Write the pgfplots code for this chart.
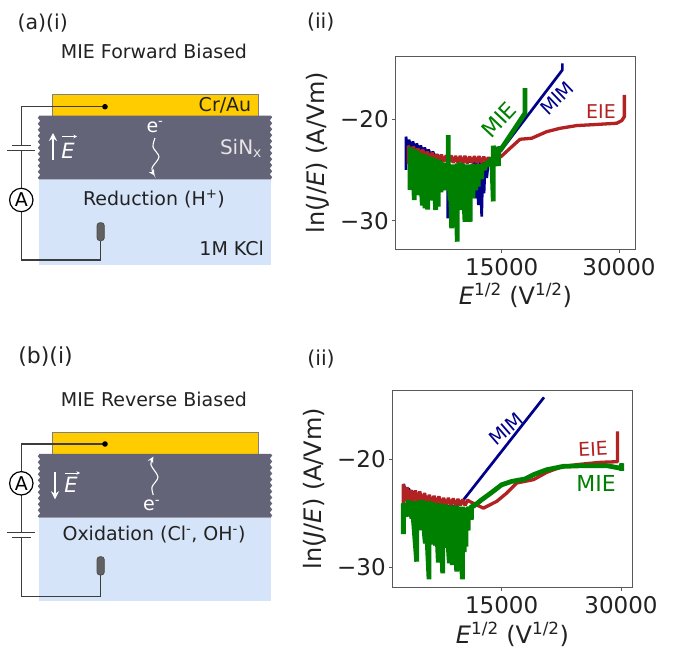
\documentclass[border=0pt]{standalone}
\usepackage{pgfplots}
\pgfplotsset{compat=1.18}
\usepackage{fontspec}
\setmainfont{DejaVu Sans}
\usetikzlibrary{decorations.pathmorphing,arrows.meta}
\definecolor{mblue}{HTML}{00008B}
\definecolor{mred}{HTML}{B22222}
\definecolor{mgreen}{HTML}{008000}
\definecolor{gold}{HTML}{FFCC00}
\definecolor{sin}{HTML}{646478}
\definecolor{kcl}{HTML}{D5E4F8}
\definecolor{wire}{HTML}{3C3C3C}
\definecolor{txt}{HTML}{222222}
\newcommand{\fs}[1]{\fontsize{#1}{#1}\selectfont}
\pgfplotsset{
  panel/.style={
    anchor=north west, scale only axis, width=239.6pt,
    scaled x ticks=false, scaled y ticks=false,
    axis line style={draw=black!65, line width=0.9pt},
    major tick style={draw=black!65, line width=0.8pt},
    tick align=outside, major tick length=3.5pt,
    xtick pos=bottom, ytick pos=left,
    xtick={15000,30000}, xticklabels={15000,30000},
    ytick={-30,-20}, yticklabels={−30,−20},
    tick label style={font=\fs{23}, text=txt},
    xticklabel style={yshift=-2.5pt},
    xlabel={\textit{E}\textsuperscript{1/2} (V\textsuperscript{1/2})},
    ylabel={ln(\textit{J}/\textit{E}) (A/Vm)},
    xlabel style={at={(axis description cs:0.5,0)},anchor=center,yshift=-46.7pt,font=\fs{24},text=txt},
    ylabel style={at={(axis description cs:0,0.5)},anchor=center,yshift=77.7pt,font=\fs{24},text=txt},
    every axis plot/.append style={line join=bevel, line cap=butt, no marks},
  }
}
\pgfplotstableread{
x y
2760 -25.0
2760 -21.71
3000 -23.0
3150 -22.0
3400 -22.8
3650 -22.2
3900 -22.9
4150 -22.4
4400 -23.0
4650 -22.6
4900 -23.2
5150 -22.8
5400 -23.3
5650 -23.0
5900 -23.5
6200 -23.2
6500 -23.7
6800 -23.5
7200 -24.0
8090 -24.0
8090 -29.77
8200 -24.0
11400 -24.2
11590 -27.79
11750 -24.2
12016 -28.45
12200 -24.2
12442 -29.6
12600 -24.2
12740 -27.3
12900 -24.2
13082 -25.8
13300 -24.2
14400 -23.6
22759 -15.14
22759 -14.48
}\blueA
\pgfplotstableread{
x y
3059 -24.4
3059 -22.6
3400 -23.2
3700 -22.7
4000 -23.4
4300 -22.9
4600 -23.5
4900 -23.0
5200 -23.7
5500 -23.2
5800 -23.9
6100 -23.3
6400 -24.0
6700 -23.45
7000 -24.1
7300 -23.5
7600 -24.2
7900 -23.55
8200 -24.3
8500 -23.55
8800 -24.3
9100 -23.6
9400 -24.3
9700 -23.6
10000 -24.35
10300 -23.6
10600 -24.35
10900 -23.65
11200 -24.3
11500 -23.65
11800 -24.3
12100 -23.65
12400 -24.3
12700 -23.7
13000 -24.2
13300 -23.75
13600 -24.2
14000 -23.95
14500 -23.9
15000 -23.62
16066 -22.86
17345 -21.97
18837 -21.87
20755 -21.22
22460 -20.89
24592 -20.62
26723 -20.53
29707 -20.39
30347 -20.13
30688 -19.74
30688 -17.6
}\redA
\pgfplotstableread{
x y
3272 -26.97
3272 -22.75
3571 -26.97
3571 -22.9
3827 -27.96
3827 -22.95
4168 -27.47
4168 -23.1
4509 -27.5
4509 -23.3
4850 -28.5
4850 -23.4
5191 -28.78
5191 -23.5
5532 -28.9
5532 -23.6
5873 -27.96
5873 -23.7
6214 -28.0
6214 -23.8
6555 -28.94
6555 -23.9
6896 -28.6
6896 -24.0
7237 -27.2
7237 -24.15
7578 -27.0
7578 -24.3
7919 -27.0
7919 -24.35
8175 -27.0
8175 -21.55
8175 -24.4
8400 -28.0
8400 -24.45
8601 -30.75
8601 -24.45
8800 -29.5
8800 -24.45
9027 -30.42
9027 -24.45
9326 -32.07
9326 -24.35
9624 -27.5
9624 -24.25
9965 -28.94
9965 -24.35
10306 -30.1
10306 -24.45
10647 -30.1
10647 -24.45
10988 -30.1
10988 -24.45
11330 -27.79
11330 -24.4
11670 -27.0
11670 -24.45
12012 -26.64
12012 -24.45
12438 -25.9
12438 -24.45
12864 -25.0
12864 -24.3
13290 -24.6
13290 -24.1
13717 -24.2
13717 -23.7
13926 -28.1
13926 -22.6
14150 -24.4
14150 -22.8
14574 -24.6
14574 -22.7
14787 -23.1
17981 -19.4
17981 -16.94
}\greenA
\pgfplotstableread{
x y
2677 -24.0
2677 -22.3
3000 -23.2
3300 -22.7
3700 -23.6
4000 -23.0
4500 -23.9
5000 -23.4
6000 -24.0
7500 -24.3
9000 -24.4
10182 -23.79
20321 -14.31
}\blueB
\pgfplotstableread{
x y
2640 -24.09
2640 -22.34
2900 -23.9
3100 -22.6
3400 -24.0
3600 -22.85
3900 -24.0
4150 -22.9
4450 -24.0
4700 -23.0
5000 -24.0
5300 -23.15
5600 -24.1
5900 -23.3
6200 -24.1
6500 -23.4
6800 -24.2
7100 -23.45
7400 -24.2
7700 -23.6
8000 -24.3
8300 -23.6
8600 -24.3
8900 -23.65
9200 -24.3
9500 -23.7
9800 -24.3
10100 -23.75
10400 -24.3
10700 -23.8
11020 -23.94
12690 -24.54
14370 -23.92
15630 -23.15
16890 -22.22
19000 -21.91
20670 -21.23
22350 -20.77
24450 -20.52
27390 -20.31
29570 -20.25
29570 -17.44
}\redB
\pgfplotstableread{
x y
2640 -26.93
2640 -24.1
3221 -25.3
3221 -23.8
3724 -25.5
3724 -23.9
4315 -29.48
4315 -23.9
4897 -26.56
4897 -23.8
5400 -27.8
5400 -23.9
5866 -31.11
5866 -23.9
6300 -27.9
6300 -24.0
6700 -28.0
6700 -24.1
7039 -29.57
7039 -24.1
7300 -28.4
7300 -24.1
7584 -30.56
7584 -24.2
7950 -28.2
7950 -24.2
8422 -29.63
8422 -24.3
8800 -29.8
8800 -24.3
9100 -29.8
9100 -24.3
9344 -30.4
9344 -24.3
9700 -30.3
9700 -24.4
10056 -31.11
10056 -24.4
10300 -28.6
10300 -24.5
10517 -28.1
10517 -24.5
10800 -26.6
10800 -24.4
11200 -25.6
11200 -24.3
11430 -24.38
12480 -23.77
13740 -23.09
15000 -22.38
16260 -22.07
17940 -21.85
19000 -21.45
20670 -20.99
22770 -20.68
25290 -20.62
28230 -20.62
30000 -20.86
30100 -20.4
30100 -21.1
}\greenB
\begin{document}
\begin{tikzpicture}[x=1pt,y=-1pt]
\path[use as bounding box] (0,0) rectangle (673,647);

% panel (a)(ii)
\begin{axis}[panel, at={(395.7pt,-56pt)}, height=193pt,
  xmin=1443, xmax=32085, ymin=-32.79, ymax=-13.76]
  \addplot[mblue, line width=2.7pt] table[x=x,y=y] {\blueA};
  \addplot[mred, line width=3.3pt] table[x=x,y=y] {\redA};
  \addplot[mgreen, line width=4.8pt] table[x=x,y=y] {\greenA};
\end{axis}

% panel (b)(ii)
\begin{axis}[panel, at={(392.7pt,-390pt)}, height=197.3pt,
  xmin=1298, xmax=31420, ymin=-31.85, ymax=-13.63]
  \addplot[mblue, line width=2.7pt] table[x=x,y=y] {\blueB};
  \addplot[mred, line width=3.3pt] table[x=x,y=y] {\redB};
  \addplot[mgreen, line width=4.8pt] table[x=x,y=y] {\greenB};
\end{axis}

% annotations on the plots
\node[text=mgreen, rotate=47, font=\fs{22}] at (499,120) {MIE};
\node[text=mblue, rotate=44, font=\fs{19}] at (557,98) {MIM};
\node[text=mred, font=\fs{19}] at (601,112) {EIE};
\node[text=mblue, rotate=41, font=\fs{19}] at (506,429) {MIM};
\node[text=mred, rotate=3, font=\fs{19}] at (593,449) {EIE};
\node[text=mgreen, font=\fs{22}] at (596,483) {MIE};

% panel letters
\node[text=txt, font=\fs{20.5}] at (42.7,22.7) {(a)(i)};
\node[text=txt, font=\fs{20.5}] at (320.7,21.7) {(ii)};
\node[text=txt, font=\fs{22}] at (45.5,356.7) {(b)(i)};
\node[text=txt, font=\fs{20.5}] at (321,359.3) {(ii)};
\node[text=txt, font=\fs{19}] at (154,51.7) {MIE Forward Biased};
\node[text=txt, font=\fs{19}] at (154,399.3) {MIE Reverse Biased};

% schematic (a)
\fill[kcl] (39,179.3) rectangle (271,265);
\fill[gold] (52.3,94) rectangle (258.3,115.7);
\draw[black!50, line width=0.8pt] (52.3,115.7) -- (52.3,94) -- (258.3,94) -- (258.3,115.7);
\fill[sin, decoration={zigzag,segment length=6pt,amplitude=1.2pt}]
  (39,115.7) -- (271,115.7) decorate {-- (271,179.3)} -- (39,179.3) decorate {-- (39,115.7)} -- cycle;
\draw[wire, line width=1.3pt] (105,106.7) -- (21.3,106.7) -- (21.3,145.7);
\draw[wire, line width=1.3pt] (12.3,145.7) -- (30.7,145.7);
\draw[wire, line width=1.3pt] (7.3,150.7) -- (35.3,150.7);
\draw[wire, line width=1.3pt] (21.3,150.7) -- (21.3,188.3);
\draw[wire, line width=1.3pt] (21.3,211.7) -- (21.3,260) -- (100.3,260) -- (100.3,240.7);
\draw[black, line width=1.2pt, fill=white] (21.3,200) circle (11.7);
\node[text=black, font=\fs{19}] at (21.3,200) {A};
\fill[black] (105,106.7) circle (2.8);
\draw[black!70, fill=black!62, line width=0.8pt, rounded corners=3pt] (97,222.7) rectangle (104.3,240.7);
\node[text=txt, font=\fs{19}] at (225,105.7) {Cr/Au};
\node[text=black!10, font=\fs{20}] at (241,148) {SiN\textsubscript{x}};
\node[text=white, font=\fs{19}] at (155,127) {e\textsuperscript{-}};
\draw[white, line width=1.1pt, -{Stealth[length=6pt,width=6pt]}]
  plot[smooth] coordinates {(155,138) (153,147) (159,157) (152,168) (154.5,175.5)};
\draw[white, line width=1.4pt, -{Stealth[length=8pt,width=8pt]}] (53,160) -- (53,133);
\node[text=white, font=\fs{21}] at (68,151) {\textit{E}};
\draw[white, line width=0.8pt, -{Stealth[length=3.5pt,width=3.5pt]}] (62,136.5) -- (77,136.5);
\node[text=txt, font=\fs{19}] at (154,199) {Reduction (H\textsuperscript{+})};
\node[text=txt, font=\fs{19}] at (231.7,248) {1M KCl};

% schematic (b)
\fill[kcl] (39,517.7) rectangle (271,600.7);
\fill[gold] (52.3,432.7) rectangle (258.3,454);
\draw[black!50, line width=0.8pt] (52.3,454) -- (52.3,432.7) -- (258.3,432.7) -- (258.3,454);
\fill[sin, decoration={zigzag,segment length=6pt,amplitude=1.2pt}]
  (39,454) -- (271,454) decorate {-- (271,517.7)} -- (39,517.7) decorate {-- (39,454)} -- cycle;
\draw[wire, line width=1.3pt] (105,444) -- (21.3,444) -- (21.3,471.6);
\draw[wire, line width=1.3pt] (21.3,495) -- (21.3,532.3);
\draw[wire, line width=1.3pt] (7.3,532.3) -- (35.3,532.3);
\draw[wire, line width=1.3pt] (12.3,537.3) -- (30.7,537.3);
\draw[wire, line width=1.3pt] (21.3,537.3) -- (21.3,596.7) -- (100.3,596.7) -- (100.3,575);
\draw[black, line width=1.2pt, fill=white] (21.3,483.3) circle (11.7);
\node[text=black, font=\fs{19}] at (21.3,483.3) {A};
\fill[black] (105,444) circle (2.8);
\draw[black!70, fill=black!62, line width=0.8pt, rounded corners=3pt] (97,556.7) rectangle (104.3,575);
\node[text=white, font=\fs{19}] at (151.7,505.7) {e\textsuperscript{-}};
\draw[white, line width=1.1pt, -{Stealth[length=6pt,width=6pt]}]
  plot[smooth] coordinates {(153.3,495) (152,487) (158,477) (151,465) (153.3,456.7)};
\draw[white, line width=1.4pt, -{Stealth[length=8pt,width=8pt]}] (55,471.7) -- (55,499.3);
\node[text=white, font=\fs{21}] at (71,485) {\textit{E}};
\draw[white, line width=0.8pt, -{Stealth[length=3.5pt,width=3.5pt]}] (65,473) -- (80,473);
\node[text=txt, font=\fs{19}] at (154,534.3) {Oxidation (Cl\textsuperscript{-}, OH\textsuperscript{-})};
\end{tikzpicture}
\end{document}
